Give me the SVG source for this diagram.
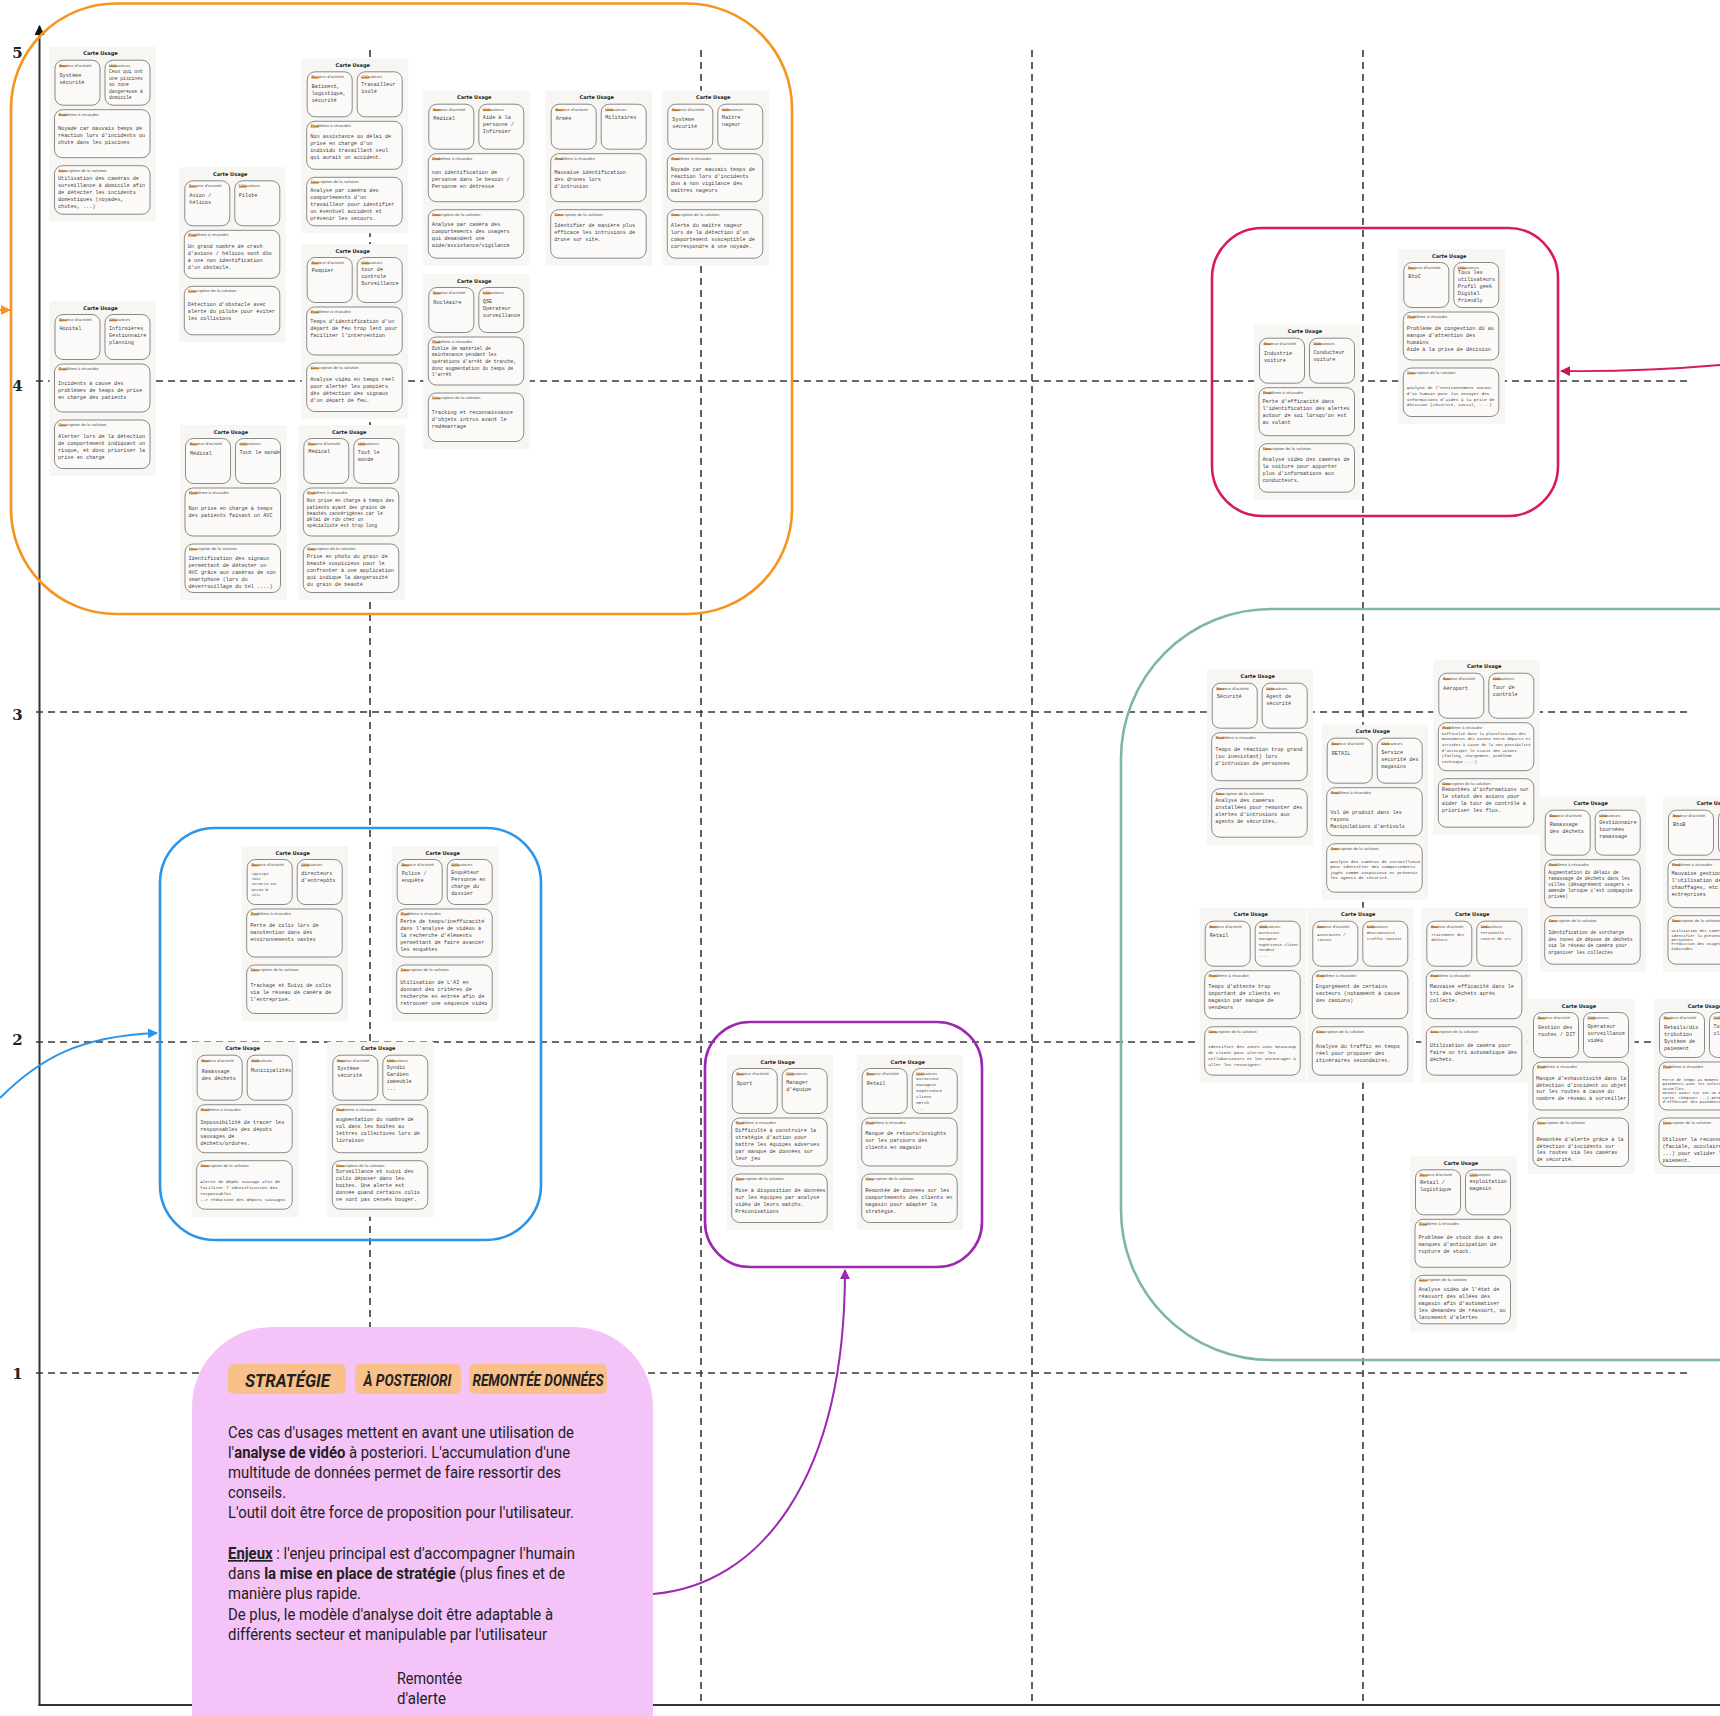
<svg xmlns="http://www.w3.org/2000/svg" xmlns:xlink="http://www.w3.org/1999/xlink" width="1720" height="1716" viewBox="0 0 1720 1716">
<style>
.grid{stroke:#3a3a3a;stroke-width:1.6;stroke-dasharray:7 5;fill:none}
.axis{stroke:#333;stroke-width:2;fill:none}
.ax{font-family:"DejaVu Serif",serif;font-weight:bold;font-size:15px;fill:#222;text-anchor:middle}
.reg{fill:none;stroke-width:2.6}
.cbg{fill:#f7f6f3}
.bx{fill:#fbfaf8;stroke:#5a5a5a;stroke-width:0.7}
.hl{fill:#ef8c1a;opacity:0.9}
.ct{font-family:"DejaVu Sans",sans-serif;font-weight:bold;font-size:5px;fill:#222;text-anchor:middle}
.lb{font-family:"Liberation Sans",sans-serif;font-size:4.3px;fill:#555}
.v,.m,.n,.s,.xs{font-family:"Liberation Mono",monospace;fill:#444}
.v{font-size:5.2px}.m{font-size:4.7px}.n{font-size:4.3px}.s{font-size:3.9px}.xs{font-size:2.8px}
.badge{fill:#f9c089}
.bt{font-family:Roboto,"Liberation Sans",sans-serif;font-weight:bold;font-style:italic;fill:#222;text-anchor:start}
.body{font-family:Roboto,"Liberation Sans",sans-serif;font-size:16.8px;fill:#222}
.b{font-weight:bold}
.conn{fill:none;stroke-width:2}
</style>
<defs>
<marker id="mO" viewBox="0 0 10 10" refX="9" refY="5" markerWidth="5" markerHeight="5" orient="auto"><path d="M0,0L10,5L0,10z" fill="#f7941d"/></marker>
<marker id="mB" viewBox="0 0 10 10" refX="9" refY="5" markerWidth="5" markerHeight="5" orient="auto"><path d="M0,0L10,5L0,10z" fill="#2b95e9"/></marker>
<marker id="mP" viewBox="0 0 10 10" refX="9" refY="5" markerWidth="5" markerHeight="5" orient="auto"><path d="M0,0L10,5L0,10z" fill="#c2185b"/></marker>
<marker id="mV" viewBox="0 0 10 10" refX="9" refY="5" markerWidth="5" markerHeight="5" orient="auto"><path d="M0,0L10,5L0,10z" fill="#9c27b0"/></marker>
<marker id="mK" viewBox="0 0 10 10" refX="9" refY="5" markerWidth="5" markerHeight="5" orient="auto"><path d="M0,0L10,5L0,10z" fill="#111"/></marker>
<g id="card">
<rect class="cbg" x="0" y="0" width="106.5" height="175"/>
<rect class="bx" x="5.5" y="13.5" width="45" height="45" rx="8"/>
<rect class="bx" x="55.5" y="13.5" width="45" height="45" rx="8"/>
<rect class="bx" x="5" y="63" width="95.5" height="48" rx="8"/>
<rect class="bx" x="5" y="119" width="95.5" height="48.5" rx="8"/>
<rect class="hl" x="9.5" y="18.6" width="8" height="1.8"/>
<rect class="hl" x="59.5" y="18.6" width="8" height="1.8"/>
<rect class="hl" x="9" y="67.6" width="8" height="1.8"/>
<rect class="hl" x="9" y="123.6" width="8" height="1.8"/>
</g>
</defs>
<rect width="1720" height="1716" fill="#ffffff"/>

<g id="grid">
<line class="grid" x1="36" y1="381" x2="1688" y2="381"/>
<line class="grid" x1="36" y1="712" x2="1688" y2="712"/>
<line class="grid" x1="36" y1="1042" x2="1688" y2="1042"/>
<line class="grid" x1="36" y1="1373" x2="1688" y2="1373"/>
<line class="grid" x1="370" y1="50" x2="370" y2="1705"/>
<line class="grid" x1="701" y1="50" x2="701" y2="1705"/>
<line class="grid" x1="1032" y1="50" x2="1032" y2="1705"/>
<line class="grid" x1="1363" y1="50" x2="1363" y2="1705"/>
<line class="axis" x1="39.5" y1="1706" x2="39.5" y2="26" marker-end="url(#mK)"/>
<line class="axis" x1="38.5" y1="1705" x2="1720" y2="1705"/>
<text class="ax" x="17.5" y="58">5</text>
<text class="ax" x="17.5" y="391">4</text>
<text class="ax" x="17.5" y="720">3</text>
<text class="ax" x="17.5" y="1045">2</text>
<text class="ax" x="17.5" y="1379">1</text>
</g>

<g id="regions">
<rect id="region-orange" class="reg" x="11" y="3.5" width="781" height="610.5" rx="105" stroke="#f7941d"/>
<rect id="region-pink" class="reg" x="1212" y="228" width="346" height="288" rx="50" stroke="#d81b60"/>
<rect id="region-teal" class="reg" x="1121" y="609" width="800" height="751" rx="150" stroke="#7fb6ac"/>
<rect id="region-blue" class="reg" x="160" y="828" width="381" height="412" rx="55" stroke="#2b95e9"/>
<rect id="region-purple" class="reg" x="705" y="1022" width="277" height="245" rx="45" stroke="#9c27b0"/>
</g>

<g id="connectors">
<line class="conn" x1="0" y1="310" x2="10" y2="310" stroke="#f7941d" marker-end="url(#mO)"/>
<path class="conn" d="M0,1098 C40,1058 80,1036 157,1033" stroke="#2b95e9" marker-end="url(#mB)"/>
<path class="conn" d="M1720,365 Q1640,372 1561,371" stroke="#d81b60" marker-end="url(#mP)"/>
<path class="conn" d="M653,1594 C760,1585 845,1480 845,1270" stroke="#9c27b0" marker-end="url(#mV)"/>
<line class="conn" x1="388" y1="1716" x2="388" y2="1707" stroke="#111" marker-end="url(#mK)"/>
</g>

<!-- ORANGE CARDS -->
<g id="card-a" transform="translate(49.5,46.7)"><use xlink:href="#card"/>
<text class="ct" x="51" y="8.5">Carte Usage</text><text class="lb" x="9.5" y="20">Secteur d'activité</text><text class="lb" x="59.5" y="20">Utilisateurs</text><text class="lb" x="9" y="69">Problème à résoudre</text><text class="lb" x="9" y="125">Description de la solution</text>
<text class="v" x="10" y="30">Système<tspan x="10" dy="7">sécurité</tspan></text>
<text class="m" x="59.5" y="26.7">Ceux qui ont<tspan x="59.5" dy="6.5">une piscines</tspan><tspan x="59.5" dy="6.5">ou zone</tspan><tspan x="59.5" dy="6.5">dangereuse à</tspan><tspan x="59.5" dy="6.5">domicile</tspan></text>
<text class="v" x="8.5" y="83.3">Noyade car mauvais temps de<tspan x="8.5" dy="7">réaction lors d'incidents ou</tspan><tspan x="8.5" dy="7">chute dans les piscines</tspan></text>
<text class="v" x="8.5" y="133">Utilisation des caméras de<tspan x="8.5" dy="7">surveillance à domicile afin</tspan><tspan x="8.5" dy="7">de détecter les incidents</tspan><tspan x="8.5" dy="7">domestiques (noyades,</tspan><tspan x="8.5" dy="7">chutes, ...)</tspan></text>
</g>
<g id="card-b" transform="translate(49.5,301)"><use xlink:href="#card"/>
<text class="ct" x="51" y="8.5">Carte Usage</text><text class="lb" x="9.5" y="20">Secteur d'activité</text><text class="lb" x="59.5" y="20">Utilisateurs</text><text class="lb" x="9" y="69">Problème à résoudre</text><text class="lb" x="9" y="125">Description de la solution</text>
<text class="v" x="10" y="29">Hopital</text>
<text class="v" x="59.5" y="29">Infirmières<tspan x="59.5" dy="7">Gestionnaire</tspan><tspan x="59.5" dy="7">planning</tspan></text>
<text class="v" x="8.5" y="84">Incidents à cause des<tspan x="8.5" dy="7">problèmes de temps de prise</tspan><tspan x="8.5" dy="7">en charge des patients</tspan></text>
<text class="v" x="8.5" y="137.3">Alerter lors de la détection<tspan x="8.5" dy="7">de comportement indiquant un</tspan><tspan x="8.5" dy="7">risque, et donc prioriser la</tspan><tspan x="8.5" dy="7">prise en charge</tspan></text>
</g>
<g id="card-c" transform="translate(179.3,167.3)"><use xlink:href="#card"/>
<text class="ct" x="51" y="8.5">Carte Usage</text><text class="lb" x="9.5" y="20">Secteur d'activité</text><text class="lb" x="59.5" y="20">Utilisateurs</text><text class="lb" x="9" y="69">Problème à résoudre</text><text class="lb" x="9" y="125">Description de la solution</text>
<text class="v" x="10" y="29.4">Avion /<tspan x="10" dy="7">hélicos</tspan></text>
<text class="v" x="59.5" y="29.4">Pilote</text>
<text class="v" x="8.5" y="81">Un grand nombre de crash<tspan x="8.5" dy="7">d'avions / hélicos sont dûs</tspan><tspan x="8.5" dy="7">à une non identification</tspan><tspan x="8.5" dy="7">d'un obstacle.</tspan></text>
<text class="v" x="8.5" y="138.4">Détection d'obstacle avec<tspan x="8.5" dy="7">alerte du pilote pour éviter</tspan><tspan x="8.5" dy="7">les collisions</tspan></text>
</g>
<g id="card-d" transform="translate(180,425)"><use xlink:href="#card"/>
<text class="ct" x="51" y="8.5">Carte Usage</text><text class="lb" x="9.5" y="20">Secteur d'activité</text><text class="lb" x="59.5" y="20">Utilisateurs</text><text class="lb" x="9" y="69">Problème à résoudre</text><text class="lb" x="9" y="125">Description de la solution</text>
<text class="v" x="10" y="30">Médical</text>
<text class="v" x="59.5" y="29">Tout le monde</text>
<text class="v" x="8.5" y="85">Non prise en charge à temps<tspan x="8.5" dy="7">des patients faisant un AVC</tspan></text>
<text class="v" x="8.5" y="134.7">Identification des signaux<tspan x="8.5" dy="7">permettant de détecter un</tspan><tspan x="8.5" dy="7">AVC grâce aux caméras de son</tspan><tspan x="8.5" dy="7">smartphone (lors du</tspan><tspan x="8.5" dy="7">déverrouillage du tel ....)</tspan></text>
</g>
<g id="card-e" transform="translate(301.7,58.3)"><use xlink:href="#card"/>
<text class="ct" x="51" y="8.5">Carte Usage</text><text class="lb" x="9.5" y="20">Secteur d'activité</text><text class="lb" x="59.5" y="20">Utilisateurs</text><text class="lb" x="9" y="69">Problème à résoudre</text><text class="lb" x="9" y="125">Description de la solution</text>
<text class="v" x="10" y="29.4">Batiment,<tspan x="10" dy="7">logistique,</tspan><tspan x="10" dy="7">sécurité</tspan></text>
<text class="v" x="59.5" y="27.7">Travailleur<tspan x="59.5" dy="7">isolé</tspan></text>
<text class="v" x="8.5" y="80">Non assistance ou délai de<tspan x="8.5" dy="7">prise en charge d'un</tspan><tspan x="8.5" dy="7">individu travaillant seul</tspan><tspan x="8.5" dy="7">qui aurait un accident.</tspan></text>
<text class="v" x="8.5" y="133.4">Analyse par caméra des<tspan x="8.5" dy="7">comportements d'un</tspan><tspan x="8.5" dy="7">travailleur pour identifier</tspan><tspan x="8.5" dy="7">un éventuel accident et</tspan><tspan x="8.5" dy="7">prévenir les secours.</tspan></text>
</g>
<g id="card-f" transform="translate(301.7,244)"><use xlink:href="#card"/>
<text class="ct" x="51" y="8.5">Carte Usage</text><text class="lb" x="9.5" y="20">Secteur d'activité</text><text class="lb" x="59.5" y="20">Utilisateurs</text><text class="lb" x="9" y="69">Problème à résoudre</text><text class="lb" x="9" y="125">Description de la solution</text>
<text class="v" x="10" y="28.3">Pompier</text>
<text class="v" x="59.5" y="27">tour de<tspan x="59.5" dy="7">controle</tspan><tspan x="59.5" dy="7">Surveillance</tspan></text>
<text class="v" x="8.5" y="79.3">Temps d'identification d'un<tspan x="8.5" dy="7">départ de feu trop lent pour</tspan><tspan x="8.5" dy="7">faciliter l'intervention</tspan></text>
<text class="v" x="8.5" y="137">Analyse vidéo en temps réel<tspan x="8.5" dy="7">pour alerter les pompiers</tspan><tspan x="8.5" dy="7">dès détection des signaux</tspan><tspan x="8.5" dy="7">d'un départ de feu.</tspan></text>
</g>
<g id="card-g" transform="translate(298.3,425)"><use xlink:href="#card"/>
<text class="ct" x="51" y="8.5">Carte Usage</text><text class="lb" x="9.5" y="20">Secteur d'activité</text><text class="lb" x="59.5" y="20">Utilisateurs</text><text class="lb" x="9" y="69">Problème à résoudre</text><text class="lb" x="9" y="125">Description de la solution</text>
<text class="v" x="10" y="28.3">Médical</text>
<text class="v" x="59.5" y="29.3">Tout le<tspan x="59.5" dy="7">monde</tspan></text>
<text class="m" x="8.5" y="77.3">Non prise en charge à temps des<tspan x="8.5" dy="6.2">patients ayant des grains de</tspan><tspan x="8.5" dy="6.2">beautés cancérigènes car le</tspan><tspan x="8.5" dy="6.2">délai de rdv chez un</tspan><tspan x="8.5" dy="6.2">spécialiste est trop long</tspan></text>
<text class="v" x="8.5" y="133.3">Prise en photo du grain de<tspan x="8.5" dy="7">beauté suspicieux pour le</tspan><tspan x="8.5" dy="7">confronter à une application</tspan><tspan x="8.5" dy="7">qui indique la dangerosité</tspan><tspan x="8.5" dy="7">du grain de beauté</tspan></text>
</g>
<g id="card-h" transform="translate(423.3,90.7)"><use xlink:href="#card"/>
<text class="ct" x="51" y="8.5">Carte Usage</text><text class="lb" x="9.5" y="20">Secteur d'activité</text><text class="lb" x="59.5" y="20">Utilisateurs</text><text class="lb" x="9" y="69">Problème à résoudre</text><text class="lb" x="9" y="125">Description de la solution</text>
<text class="v" x="10" y="29">Médical</text>
<text class="v" x="59.5" y="28">Aide à la<tspan x="59.5" dy="7">personne /</tspan><tspan x="59.5" dy="7">Infirmier</tspan></text>
<text class="v" x="8.5" y="83.3">non identification de<tspan x="8.5" dy="7">personne dans le besoin /</tspan><tspan x="8.5" dy="7">Personne en détresse</tspan></text>
<text class="v" x="8.5" y="135.7">Analyse par caméra des<tspan x="8.5" dy="7">comportements des usagers</tspan><tspan x="8.5" dy="7">qui demandent une</tspan><tspan x="8.5" dy="7">aide/assistance/vigilance</tspan></text>
</g>
<g id="card-i" transform="translate(423.3,274)"><use xlink:href="#card"/>
<text class="ct" x="51" y="8.5">Carte Usage</text><text class="lb" x="9.5" y="20">Secteur d'activité</text><text class="lb" x="59.5" y="20">Utilisateurs</text><text class="lb" x="9" y="69">Problème à résoudre</text><text class="lb" x="9" y="125">Description de la solution</text>
<text class="v" x="10" y="29.7">Nucléaire</text>
<text class="v" x="59.5" y="29">QSE<tspan x="59.5" dy="7">Opérateur</tspan><tspan x="59.5" dy="7">surveillance</tspan></text>
<text class="m" x="8.5" y="75.7">Oublie de matériel de<tspan x="8.5" dy="6.6">maintenance pendant les</tspan><tspan x="8.5" dy="6.6">opérations d'arrêt de tranche,</tspan><tspan x="8.5" dy="6.6">donc augmentation du temps de</tspan><tspan x="8.5" dy="6.6">l'arrêt</tspan></text>
<text class="v" x="8.5" y="139.7">Tracking et reconnaissance<tspan x="8.5" dy="7">d'objets intrus avant le</tspan><tspan x="8.5" dy="7">redémarrage</tspan></text>
</g>
<g id="card-j" transform="translate(545.7,90.7)"><use xlink:href="#card"/>
<text class="ct" x="51" y="8.5">Carte Usage</text><text class="lb" x="9.5" y="20">Secteur d'activité</text><text class="lb" x="59.5" y="20">Utilisateurs</text><text class="lb" x="9" y="69">Problème à résoudre</text><text class="lb" x="9" y="125">Description de la solution</text>
<text class="v" x="10" y="29">Armée</text>
<text class="v" x="59.5" y="28">Militaires</text>
<text class="v" x="8.5" y="83.3">Mauvaise identification<tspan x="8.5" dy="7">des drones lors</tspan><tspan x="8.5" dy="7">d'intrusion</tspan></text>
<text class="v" x="8.5" y="136.6">Identifier de manière plus<tspan x="8.5" dy="7">efficace les intrusions de</tspan><tspan x="8.5" dy="7">drone sur site.</tspan></text>
</g>
<g id="card-k" transform="translate(662.3,90.7)"><use xlink:href="#card"/>
<text class="ct" x="51" y="8.5">Carte Usage</text><text class="lb" x="9.5" y="20">Secteur d'activité</text><text class="lb" x="59.5" y="20">Utilisateurs</text><text class="lb" x="9" y="69">Problème à résoudre</text><text class="lb" x="9" y="125">Description de la solution</text>
<text class="v" x="10" y="30">Système<tspan x="10" dy="7">sécurité</tspan></text>
<text class="v" x="59.5" y="28">Maître<tspan x="59.5" dy="7">nageur</tspan></text>
<text class="v" x="8.5" y="80">Noyade car mauvais temps de<tspan x="8.5" dy="7">réaction lors d'incidents</tspan><tspan x="8.5" dy="7">dus à non vigilance des</tspan><tspan x="8.5" dy="7">maîtres nageurs</tspan></text>
<text class="v" x="8.5" y="136.6">Alerte du maître nageur<tspan x="8.5" dy="7">lors de la détection d'un</tspan><tspan x="8.5" dy="7">comportement susceptible de</tspan><tspan x="8.5" dy="7">correspondre à une noyade.</tspan></text>
</g>

<!-- PINK CARDS -->
<g id="card-p1" transform="translate(1254,324.7)"><use xlink:href="#card"/>
<text class="ct" x="51" y="8.5">Carte Usage</text><text class="lb" x="9.5" y="20">Secteur d'activité</text><text class="lb" x="59.5" y="20">Utilisateurs</text><text class="lb" x="9" y="69">Problème à résoudre</text><text class="lb" x="9" y="125">Description de la solution</text>
<text class="v" x="10" y="30">Industrie<tspan x="10" dy="7">voiture</tspan></text>
<text class="v" x="59.5" y="29">Conducteur<tspan x="59.5" dy="7">voiture</tspan></text>
<text class="v" x="8.5" y="78.3">Perte d'efficacité dans<tspan x="8.5" dy="7">l'identification des alertes</tspan><tspan x="8.5" dy="7">autour de soi lorsqu'on est</tspan><tspan x="8.5" dy="7">au volant</tspan></text>
<text class="v" x="8.5" y="136.6">Analyse vidéo des caméras de<tspan x="8.5" dy="7">la voiture pour apporter</tspan><tspan x="8.5" dy="7">plus d'informations aux</tspan><tspan x="8.5" dy="7">conducteurs.</tspan></text>
</g>
<g id="card-p2" transform="translate(1398.3,249)"><use xlink:href="#card"/>
<text class="ct" x="51" y="8.5">Carte Usage</text><text class="lb" x="9.5" y="20">Secteur d'activité</text><text class="lb" x="59.5" y="20">Utilisateurs</text><text class="lb" x="9" y="69">Problème à résoudre</text><text class="lb" x="9" y="125">Description de la solution</text>
<text class="v" x="10" y="29">BtoC</text>
<text class="v" x="59.5" y="25">Tous les<tspan x="59.5" dy="7">utilisateurs</tspan><tspan x="59.5" dy="7">Profil geek</tspan><tspan x="59.5" dy="7">Digital</tspan><tspan x="59.5" dy="7">friendly</tspan></text>
<text class="v" x="8.5" y="80.7">Problème de congestion dû au<tspan x="8.5" dy="7">manque d'attention des</tspan><tspan x="8.5" dy="7">humains</tspan><tspan x="8.5" dy="7">Aide à la prise de décision</tspan></text>
<text class="n" x="8.5" y="140">Analyse de l'environnement autour<tspan x="8.5" dy="5.8">d'un humain pour lui envoyer des</tspan><tspan x="8.5" dy="5.8">informations d'aides à la prise de</tspan><tspan x="8.5" dy="5.8">décision (sécurité, social, ....)</tspan></text>
</g>

<!-- BLUE CARDS -->
<g id="card-b1" transform="translate(241.7,846)"><use xlink:href="#card"/>
<text class="ct" x="51" y="8.5">Carte Usage</text><text class="lb" x="9.5" y="20">Secteur d'activité</text><text class="lb" x="59.5" y="20">Utilisateurs</text><text class="lb" x="9" y="69">Problème à résoudre</text><text class="lb" x="9" y="125">Description de la solution</text>
<text class="xs" x="10" y="28.7">Logistique<tspan x="10" dy="5.3">Toute</tspan><tspan x="10" dy="5.3">entreprise avec</tspan><tspan x="10" dy="5.3">gestion de</tspan><tspan x="10" dy="5.3">colis</tspan></text>
<text class="v" x="59.5" y="28.7">directeurs<tspan x="59.5" dy="7">d'entrepôts</tspan></text>
<text class="v" x="8.5" y="81.3">Perte de colis lors de<tspan x="8.5" dy="7">manutention dans des</tspan><tspan x="8.5" dy="7">environnements vastes</tspan></text>
<text class="v" x="8.5" y="140.7">Trackage et Suivi de colis<tspan x="8.5" dy="7">via le réseau de caméra de</tspan><tspan x="8.5" dy="7">l'entreprise.</tspan></text>
</g>
<g id="card-b2" transform="translate(391.7,846)"><use xlink:href="#card"/>
<text class="ct" x="51" y="8.5">Carte Usage</text><text class="lb" x="9.5" y="20">Secteur d'activité</text><text class="lb" x="59.5" y="20">Utilisateurs</text><text class="lb" x="9" y="69">Problème à résoudre</text><text class="lb" x="9" y="125">Description de la solution</text>
<text class="v" x="10" y="28.7">Police /<tspan x="10" dy="7">enquête</tspan></text>
<text class="v" x="59.5" y="28">Enquêteur<tspan x="59.5" dy="7">Personne en</tspan><tspan x="59.5" dy="7">charge du</tspan><tspan x="59.5" dy="7">dossier</tspan></text>
<text class="v" x="8.5" y="76.7">Perte de temps/inefficacité<tspan x="8.5" dy="7">dans l'analyse de vidéos à</tspan><tspan x="8.5" dy="7">la recherche d'éléments</tspan><tspan x="8.5" dy="7">permettant de faire avancer</tspan><tspan x="8.5" dy="7">les enquêtes</tspan></text>
<text class="v" x="8.5" y="138">Utilisation de L'AI en<tspan x="8.5" dy="7">donnant des critères de</tspan><tspan x="8.5" dy="7">recherche en entrée afin de</tspan><tspan x="8.5" dy="7">retrouver une séquence vidéo</tspan></text>
</g>
<g id="card-b3" transform="translate(191.7,1041.7)"><use xlink:href="#card"/>
<text class="ct" x="51" y="8.5">Carte Usage</text><text class="lb" x="9.5" y="20">Secteur d'activité</text><text class="lb" x="59.5" y="20">Utilisateurs</text><text class="lb" x="9" y="69">Problème à résoudre</text><text class="lb" x="9" y="125">Description de la solution</text>
<text class="v" x="10" y="31.7">Ramassage<tspan x="10" dy="7">des déchets</tspan></text>
<text class="v" x="59" y="30.7">Municipalités</text>
<text class="v" x="8.5" y="82.3">Impossibilité de tracer les<tspan x="8.5" dy="7">responsables des dépots</tspan><tspan x="8.5" dy="7">sauvages de</tspan><tspan x="8.5" dy="7">déchets/ordures.</tspan></text>
<text class="n" x="8.5" y="141">Alerte de dépôt sauvage afin de<tspan x="8.5" dy="6">faciliter l'identification des</tspan><tspan x="8.5" dy="6">responsables</tspan><tspan x="8.5" dy="6">--&gt; réduction des dépots sauvages</tspan></text>
</g>
<g id="card-b4" transform="translate(327.3,1041.7)"><use xlink:href="#card"/>
<text class="ct" x="51" y="8.5">Carte Usage</text><text class="lb" x="9.5" y="20">Secteur d'activité</text><text class="lb" x="59.5" y="20">Utilisateurs</text><text class="lb" x="9" y="69">Problème à résoudre</text><text class="lb" x="9" y="125">Description de la solution</text>
<text class="v" x="10" y="28.3">Système<tspan x="10" dy="7">sécurité</tspan></text>
<text class="v" x="59.5" y="27.7">Syndic<tspan x="59.5" dy="7">Gardien</tspan><tspan x="59.5" dy="7">immeuble</tspan><tspan x="59.5" dy="7">...</tspan></text>
<text class="v" x="8.5" y="79">augmentation du nombre de<tspan x="8.5" dy="7">vol dans les boites au</tspan><tspan x="8.5" dy="7">lettres collectives lors de</tspan><tspan x="8.5" dy="7">livraison</tspan></text>
<text class="v" x="8.5" y="131.7">Surveillance et suivi des<tspan x="8.5" dy="7">colis déposer dans les</tspan><tspan x="8.5" dy="7">boites. Une alerte est</tspan><tspan x="8.5" dy="7">donnée quand certains colis</tspan><tspan x="8.5" dy="7">ne sont pas censés bouger.</tspan></text>
</g>

<!-- PURPLE CARDS -->
<g id="card-v1" transform="translate(726.7,1055)"><use xlink:href="#card"/>
<text class="ct" x="51" y="8.5">Carte Usage</text><text class="lb" x="9.5" y="20">Secteur d'activité</text><text class="lb" x="59.5" y="20">Utilisateurs</text><text class="lb" x="9" y="69">Problème à résoudre</text><text class="lb" x="9" y="125">Description de la solution</text>
<text class="v" x="10" y="29.7">Sport</text>
<text class="v" x="59.5" y="29">Manager<tspan x="59.5" dy="7">d'équipe</tspan></text>
<text class="v" x="8.5" y="76.7">Difficulté à construire la<tspan x="8.5" dy="7">stratégie d'action pour</tspan><tspan x="8.5" dy="7">battre les équipes adverses</tspan><tspan x="8.5" dy="7">par manque de données sur</tspan><tspan x="8.5" dy="7">leur jeu</tspan></text>
<text class="v" x="8.5" y="136.7">Mise à disposition de données<tspan x="8.5" dy="7">sur les équipes par analyse</tspan><tspan x="8.5" dy="7">vidéo de leurs matchs.</tspan><tspan x="8.5" dy="7">Préconisations</tspan></text>
</g>
<g id="card-v2" transform="translate(856.7,1055)"><use xlink:href="#card"/>
<text class="ct" x="51" y="8.5">Carte Usage</text><text class="lb" x="9.5" y="20">Secteur d'activité</text><text class="lb" x="59.5" y="20">Utilisateurs</text><text class="lb" x="9" y="69">Problème à résoudre</text><text class="lb" x="9" y="125">Description de la solution</text>
<text class="v" x="10" y="29.7">Retail</text>
<text class="n" x="59.5" y="25">Directeur<tspan x="59.5" dy="6">Manageur</tspan><tspan x="59.5" dy="6">expérience</tspan><tspan x="59.5" dy="6">client</tspan><tspan x="59.5" dy="6">Merch</tspan><tspan x="59.5" dy="6">...</tspan></text>
<text class="v" x="8.5" y="80">Manque de retours/insights<tspan x="8.5" dy="7">sur les parcours des</tspan><tspan x="8.5" dy="7">clients en magasin</tspan></text>
<text class="v" x="8.5" y="136.7">Remontée de données sur les<tspan x="8.5" dy="7">comportements des clients en</tspan><tspan x="8.5" dy="7">magasin pour adapter la</tspan><tspan x="8.5" dy="7">stratégie.</tspan></text>
</g>

<!-- TEAL CARDS -->
<g id="card-t1" transform="translate(1206.7,669.7)"><use xlink:href="#card"/>
<text class="ct" x="51" y="8.5">Carte Usage</text><text class="lb" x="9.5" y="20">Secteur d'activité</text><text class="lb" x="59.5" y="20">Utilisateurs</text><text class="lb" x="9" y="69">Problème à résoudre</text><text class="lb" x="9" y="125">Description de la solution</text>
<text class="v" x="10" y="28">Sécurité</text>
<text class="v" x="59.5" y="28">Agent de<tspan x="59.5" dy="7">sécurité</tspan></text>
<text class="v" x="8.5" y="81.7">Temps de réaction trop grand<tspan x="8.5" dy="7">(ou inexistant) lors</tspan><tspan x="8.5" dy="7">d'intrusion de personnes</tspan></text>
<text class="v" x="8.5" y="132">Analyse des caméras<tspan x="8.5" dy="7">installées pour remonter des</tspan><tspan x="8.5" dy="7">alertes d'intrusions aux</tspan><tspan x="8.5" dy="7">agents de sécurités.</tspan></text>
</g>
<g id="card-t2" transform="translate(1321.7,724.7)"><use xlink:href="#card"/>
<text class="ct" x="51" y="8.5">Carte Usage</text><text class="lb" x="9.5" y="20">Secteur d'activité</text><text class="lb" x="59.5" y="20">Utilisateurs</text><text class="lb" x="9" y="69">Problème à résoudre</text><text class="lb" x="9" y="125">Description de la solution</text>
<text class="v" x="10" y="30">RETAIL</text>
<text class="v" x="59.5" y="29">Service<tspan x="59.5" dy="7">sécurité des</tspan><tspan x="59.5" dy="7">magasins</tspan></text>
<text class="v" x="8.5" y="89.3">Vol de produit dans les<tspan x="8.5" dy="7">rayons</tspan><tspan x="8.5" dy="7">Manipulations d'antivols</tspan></text>
<text class="n" x="8.5" y="138.3">Analyse des caméras de surveillance<tspan x="8.5" dy="5.3">pour identifier des comportements</tspan><tspan x="8.5" dy="5.3">jugés comme suspicieux et prévenir</tspan><tspan x="8.5" dy="5.3">les agents de sécurité.</tspan></text>
</g>
<g id="card-t3" transform="translate(1433.3,659.7)"><use xlink:href="#card"/>
<text class="ct" x="51" y="8.5">Carte Usage</text><text class="lb" x="9.5" y="20">Secteur d'activité</text><text class="lb" x="59.5" y="20">Utilisateurs</text><text class="lb" x="9" y="69">Problème à résoudre</text><text class="lb" x="9" y="125">Description de la solution</text>
<text class="v" x="10" y="30">Aéroport</text>
<text class="v" x="59.5" y="29">Tour de<tspan x="59.5" dy="7">contrôle</tspan></text>
<text class="s" x="8.5" y="75">Difficulté dans la planification des<tspan x="8.5" dy="5.7">mouvements des avions entre départs et</tspan><tspan x="8.5" dy="5.7">arrivées à cause de la non possibilité</tspan><tspan x="8.5" dy="5.7">d'anticiper le statut des avions</tspan><tspan x="8.5" dy="5.7">(fueling, chargement, problème</tspan><tspan x="8.5" dy="5.7">technique ....)</tspan></text>
<text class="v" x="8.5" y="131.7">Remontées d'informations sur<tspan x="8.5" dy="7">le statut des avions pour</tspan><tspan x="8.5" dy="7">aider la tour de contrôle à</tspan><tspan x="8.5" dy="7">prioriser les flux.</tspan></text>
</g>
<g id="card-t4" transform="translate(1539.7,796.7)"><use xlink:href="#card"/>
<text class="ct" x="51" y="8.5">Carte Usage</text><text class="lb" x="9.5" y="20">Secteur d'activité</text><text class="lb" x="59.5" y="20">Utilisateurs</text><text class="lb" x="9" y="69">Problème à résoudre</text><text class="lb" x="9" y="125">Description de la solution</text>
<text class="v" x="10" y="29">Ramassage<tspan x="10" dy="7">des déchets</tspan></text>
<text class="v" x="59.5" y="27.7">Gestionnaire<tspan x="59.5" dy="7">tournées</tspan><tspan x="59.5" dy="7">ramassage</tspan></text>
<text class="m" x="8.5" y="77.7">Augmentation du délais de<tspan x="8.5" dy="6">ramassage de déchets dans les</tspan><tspan x="8.5" dy="6">villes (désagrément usagers +</tspan><tspan x="8.5" dy="6">amende lorsque c'est compagnie</tspan><tspan x="8.5" dy="6">privée)</tspan></text>
<text class="m" x="8.5" y="137.7">Identification de surcharge<tspan x="8.5" dy="6.4">des zones de dépose de déchets</tspan><tspan x="8.5" dy="6.4">via le réseau de caméra pour</tspan><tspan x="8.5" dy="6.4">organiser les collectes</tspan></text>
</g>
<g id="card-t5" transform="translate(1663,796.7)"><use xlink:href="#card"/>
<text class="ct" x="51" y="8.5">Carte Usage</text><text class="lb" x="9.5" y="20">Secteur d'activité</text><text class="lb" x="9" y="69">Problème à résoudre</text><text class="lb" x="9" y="125">Description de la solution</text>
<text class="v" x="10" y="29">BtoB</text>
<text class="v" x="8.5" y="78.3">Mauvaise gestion de<tspan x="8.5" dy="7">l'utilisation des</tspan><tspan x="8.5" dy="7">chauffages, etc</tspan><tspan x="8.5" dy="7">entreprises</tspan></text>
<text class="s" x="8.5" y="135.6">Utilisation des caméras<tspan x="8.5" dy="4.4">identifier la présence</tspan><tspan x="8.5" dy="4.4">personnes</tspan><tspan x="8.5" dy="4.4">Prédiction des usages</tspan><tspan x="8.5" dy="4.4">habitudes</tspan></text>
</g>
<g id="card-t6" transform="translate(1199.7,907.7)"><use xlink:href="#card"/>
<text class="ct" x="51" y="8.5">Carte Usage</text><text class="lb" x="9.5" y="20">Secteur d'activité</text><text class="lb" x="59.5" y="20">Utilisateurs</text><text class="lb" x="9" y="69">Problème à résoudre</text><text class="lb" x="9" y="125">Description de la solution</text>
<text class="v" x="10" y="29">Retail</text>
<text class="s" x="59" y="26.6">Directeur<tspan x="59" dy="5.7">Manageur</tspan><tspan x="59" dy="5.7">expérience client</tspan><tspan x="59" dy="5.7">Vendeur</tspan><tspan x="59" dy="5.7">....</tspan></text>
<text class="v" x="8.5" y="80">Temps d'attente trop<tspan x="8.5" dy="7">important de clients en</tspan><tspan x="8.5" dy="7">magasin par manque de</tspan><tspan x="8.5" dy="7">vendeurs</tspan></text>
<text class="n" x="8.5" y="140">Identifier des zones avec beaucoup<tspan x="8.5" dy="6">de client pour alerter les</tspan><tspan x="8.5" dy="6">collaborateurs et les encourager à</tspan><tspan x="8.5" dy="6">aller les renseigner.</tspan></text>
</g>
<g id="card-t7" transform="translate(1307.3,907.7)"><use xlink:href="#card"/>
<text class="ct" x="51" y="8.5">Carte Usage</text><text class="lb" x="9.5" y="20">Secteur d'activité</text><text class="lb" x="59.5" y="20">Utilisateurs</text><text class="lb" x="9" y="69">Problème à résoudre</text><text class="lb" x="9" y="125">Description de la solution</text>
<text class="s" x="10" y="28">Autoroutes /<tspan x="10" dy="5.5">routes</tspan></text>
<text class="s" x="59.5" y="26.7">Gestionnaire<tspan x="59.5" dy="5.5">traffic routier</tspan></text>
<text class="v" x="8.5" y="80.3">Engorgement de certains<tspan x="8.5" dy="7">secteurs (notamment à cause</tspan><tspan x="8.5" dy="7">des camions)</tspan></text>
<text class="v" x="8.5" y="140">Analyse du traffic en temps<tspan x="8.5" dy="7">réel pour proposer des</tspan><tspan x="8.5" dy="7">itinéraires secondaires.</tspan></text>
</g>
<g id="card-t8" transform="translate(1421.3,907.7)"><use xlink:href="#card"/>
<text class="ct" x="51" y="8.5">Carte Usage</text><text class="lb" x="9.5" y="20">Secteur d'activité</text><text class="lb" x="59.5" y="20">Utilisateurs</text><text class="lb" x="9" y="69">Problème à résoudre</text><text class="lb" x="9" y="125">Description de la solution</text>
<text class="s" x="10" y="28">Traitement des<tspan x="10" dy="5.5">déchets</tspan></text>
<text class="s" x="59.5" y="26.7">Personnels<tspan x="59.5" dy="5.5">centre de tri</tspan></text>
<text class="v" x="8.5" y="80">Mauvaise efficacité dans le<tspan x="8.5" dy="7">tri des déchets après</tspan><tspan x="8.5" dy="7">collecte.</tspan></text>
<text class="v" x="8.5" y="139">Utilisation de caméra pour<tspan x="8.5" dy="7">faire un tri automatique des</tspan><tspan x="8.5" dy="7">déchets.</tspan></text>
</g>
<g id="card-t9" transform="translate(1528,999)"><use xlink:href="#card"/>
<text class="ct" x="51" y="8.5">Carte Usage</text><text class="lb" x="9.5" y="20">Secteur d'activité</text><text class="lb" x="59.5" y="20">Utilisateurs</text><text class="lb" x="9" y="69">Problème à résoudre</text><text class="lb" x="9" y="125">Description de la solution</text>
<text class="v" x="10" y="30">Gestion des<tspan x="10" dy="7">routes / DIT</tspan></text>
<text class="v" x="59.5" y="28.7">Opérateur<tspan x="59.5" dy="7">surveillance</tspan><tspan x="59.5" dy="7">vidéo</tspan></text>
<text class="v" x="8" y="81">Manque d'exhaustivité dans la<tspan x="8" dy="6.7">détection d'incident ou objet</tspan><tspan x="8" dy="6.7">sur les routes à cause du</tspan><tspan x="8" dy="6.7">nombre de réseau à surveiller</tspan></text>
<text class="v" x="8.5" y="142">Remontée d'alerte grâce à la<tspan x="8.5" dy="6.7">détection d'incidents sur</tspan><tspan x="8.5" dy="6.7">les routes via les caméras</tspan><tspan x="8.5" dy="6.7">de sécurité.</tspan></text>
</g>
<g id="card-t10" transform="translate(1654,999)"><use xlink:href="#card"/>
<text class="ct" x="51" y="8.5">Carte Usage</text><text class="lb" x="9.5" y="20">Secteur d'activité</text><text class="lb" x="59.5" y="20">Utilisateurs</text><text class="lb" x="9" y="69">Problème à résoudre</text><text class="lb" x="9" y="125">Description de la solution</text>
<text class="v" x="10" y="30">Retails/dis<tspan x="10" dy="7">tribution</tspan><tspan x="10" dy="7">Système de</tspan><tspan x="10" dy="7">paiement</tspan></text>
<text class="v" x="59.5" y="28.7">Tous les<tspan x="59.5" dy="7">clients</tspan></text>
<text class="s" x="8.5" y="81.7">Perte de temps au moment des<tspan x="8.5" dy="4.5">paiements avec les solutions</tspan><tspan x="8.5" dy="4.5">actuelles.</tspan><tspan x="8.5" dy="4.5">Devoir avoir sur soi un moyen de</tspan><tspan x="8.5" dy="4.5">carte, chéquier ...) permettant</tspan><tspan x="8.5" dy="4.5">d'effectuer des paiements</tspan></text>
<text class="v" x="8.5" y="142">Utiliser la reconnaissance<tspan x="8.5" dy="7">(faciale, occulaire,</tspan><tspan x="8.5" dy="7">...) pour valider le</tspan><tspan x="8.5" dy="7">paiement.</tspan></text>
</g>
<g id="card-t11" transform="translate(1410,1156.3)"><use xlink:href="#card"/>
<text class="ct" x="51" y="8.5">Carte Usage</text><text class="lb" x="9.5" y="20">Secteur d'activité</text><text class="lb" x="59.5" y="20">Utilisateurs</text><text class="lb" x="9" y="69">Problème à résoudre</text><text class="lb" x="9" y="125">Description de la solution</text>
<text class="v" x="10" y="28">Retail /<tspan x="10" dy="7">logistique</tspan></text>
<text class="v" x="59.5" y="27">exploitation<tspan x="59.5" dy="7">magasin</tspan></text>
<text class="v" x="8.5" y="82.3">Problème de stock dus à des<tspan x="8.5" dy="7">manques d'anticipation de</tspan><tspan x="8.5" dy="7">rupture de stock.</tspan></text>
<text class="v" x="8.5" y="135">Analyse vidéo de l'état de<tspan x="8.5" dy="7">réassort des allées des</tspan><tspan x="8.5" dy="7">magasin afin d'automatiser</tspan><tspan x="8.5" dy="7">les demandes de réassort, ou</tspan><tspan x="8.5" dy="7">lancement d'alertes</tspan></text>
</g>

<!-- STRATEGY NOTE -->
<g id="strategie">
<path d="M192,1716 L192,1407 A80,80 0 0 1 272,1327 L573,1327 A80,80 0 0 1 653,1407 L653,1716 Z" fill="#f4c3f8"/>
<rect class="badge" x="228" y="1364" width="118" height="30" rx="6"/>
<rect class="badge" x="355" y="1364" width="106" height="30" rx="6"/>
<rect class="badge" x="469" y="1364" width="138" height="30" rx="6"/>
<text class="bt" x="245" y="1386.5" font-size="18.5" textLength="85" lengthAdjust="spacingAndGlyphs">STRATÉGIE</text>
<text class="bt" x="363.5" y="1386" font-size="16" textLength="88" lengthAdjust="spacingAndGlyphs">À POSTERIORI</text>
<text class="bt" x="472.5" y="1386" font-size="16" textLength="131" lengthAdjust="spacingAndGlyphs">REMONTÉE DONNÉES</text>
<text class="body" x="228" y="1438" textLength="346" lengthAdjust="spacingAndGlyphs">Ces cas d'usages mettent en avant une utilisation de</text>
<text class="body" x="228" y="1458" textLength="342" lengthAdjust="spacingAndGlyphs">l'<tspan class="b">analyse de vidéo</tspan> à posteriori. L'accumulation d'une</text>
<text class="body" x="228" y="1478" textLength="333" lengthAdjust="spacingAndGlyphs">multitude de données permet de faire ressortir des</text>
<text class="body" x="228" y="1498" textLength="58" lengthAdjust="spacingAndGlyphs">conseils.</text>
<text class="body" x="228" y="1518" textLength="346" lengthAdjust="spacingAndGlyphs">L'outil doit être force de proposition pour l'utilisateur.</text>
<text class="body" x="228" y="1559" textLength="347" lengthAdjust="spacingAndGlyphs"><tspan class="b" text-decoration="underline">Enjeux</tspan> : l'enjeu principal est d'accompagner l'humain</text>
<text class="body" x="228" y="1579" textLength="337" lengthAdjust="spacingAndGlyphs">dans <tspan class="b">la mise en place de stratégie</tspan> (plus fines et de</text>
<text class="body" x="228" y="1599" textLength="133" lengthAdjust="spacingAndGlyphs">manière plus rapide.</text>
<text class="body" x="228" y="1620" textLength="325" lengthAdjust="spacingAndGlyphs">De plus, le modèle d'analyse doit être adaptable à</text>
<text class="body" x="228" y="1640" textLength="319" lengthAdjust="spacingAndGlyphs">différents secteur et manipulable par l'utilisateur</text>
<text class="body" x="397" y="1684" textLength="65" lengthAdjust="spacingAndGlyphs">Remontée</text>
<text class="body" x="397" y="1704" textLength="49" lengthAdjust="spacingAndGlyphs">d'alerte</text>
</g>
</svg>
